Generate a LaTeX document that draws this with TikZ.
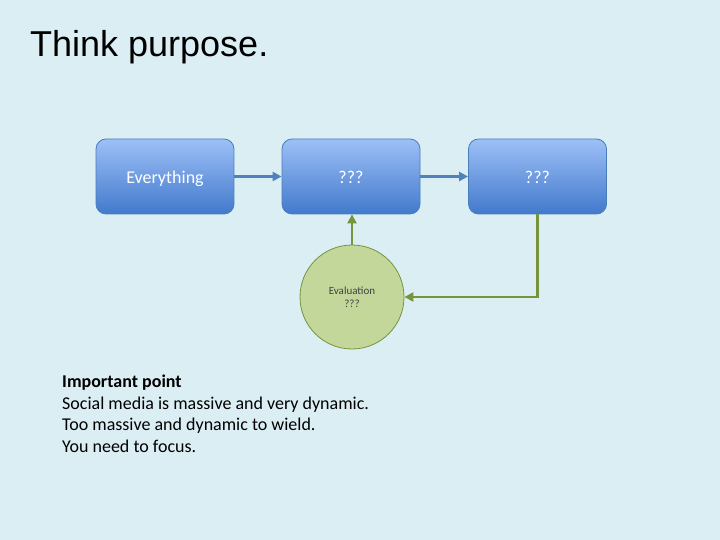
\documentclass[tikz,border=0pt]{standalone}
\usepackage{fontspec}
\setmainfont{Carlito}
\newfontfamily\titlefont{Liberation Sans}
\usepackage{xcolor}
\usepackage{tikz}
\usetikzlibrary{positioning, arrows.meta, calc}
\definecolor{SlideBg}{HTML}{DBEEF4}
\definecolor{BoxTop}{HTML}{9DC0F7}
\definecolor{BoxBottom}{HTML}{4279CC}
\definecolor{BoxLine}{HTML}{4A7EBB}
\definecolor{FlowBlue}{HTML}{4F81BD}
\definecolor{EvalFill}{HTML}{C4D79B}
\definecolor{EvalLine}{HTML}{77933C}
\definecolor{EvalText}{HTML}{404040}

\begin{document}
\begin{tikzpicture}[x=1pt, y=-1pt,
    stagebox/.style={draw=BoxLine, line width=0.8pt, rounded corners=10pt,
      top color=BoxTop, bottom color=BoxBottom, text=white,
      minimum width=138pt, minimum height=75pt,
      text height=18pt, text depth=3pt,
      font=\fontsize{18}{22}\selectfont},
    flow/.style={draw=FlowBlue, line width=2.8pt,
      -{Triangle[length=9pt, width=9pt]}},
    loopback/.style={draw=EvalLine, line width=2.8pt,
      -{Triangle[length=9pt, width=9pt]}}]
  \useasboundingbox[fill=SlideBg] (0,0) rectangle (720,540);

  % title
  \node[anchor=base west, inner sep=0pt, font=\titlefont\fontsize{36}{42}\selectfont]
    (title) at (30,57) {Think purpose.};

  % stages
  \node[stagebox] (everything) at (165,176.5) {Everything};
  \node[stagebox] (middle) at (351,176.5) {???};
  \node[stagebox] (result) at (537.5,176.5) {???};

  % evaluation circle
  \node[circle, draw=EvalLine, line width=0.8pt, fill=EvalFill, minimum size=104pt,
        text=EvalText, align=center, font=\fontsize{11}{13.5}\selectfont]
    (evaluation) at (352,297) {Evaluation\\???};

  \draw[flow] (everything) -- (middle);
  \draw[flow] (middle) -- (result);
  \draw[loopback] (evaluation.north) -- (evaluation.north |- middle.south);
  \draw[loopback] (result.south) |- (evaluation.east);

  % note
  \node[anchor=north west, inner sep=0pt, align=left,
        font=\fontsize{18}{21.5}\selectfont] (note) at (62,375)
    {\textbf{Important point}\\
     Social media is massive and very dynamic.\\
     Too massive and dynamic to wield.\\
     You need to focus.};
\end{tikzpicture}
\end{document}
